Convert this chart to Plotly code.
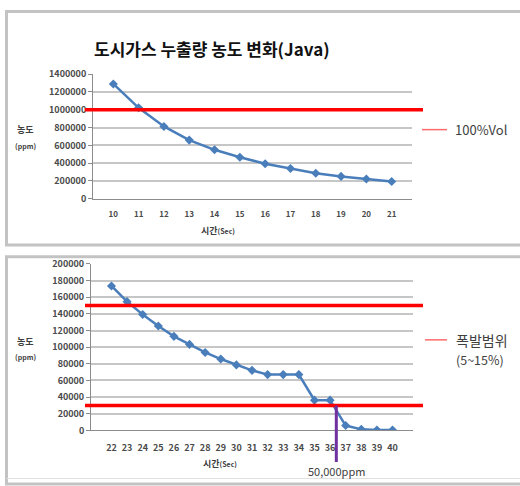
import plotly.graph_objects as go

# ---------------- data ----------------
top_times = ["10", "11", "12", "13", "14", "15", "16", "17", "18", "19", "20", "21"]
top_ppm = [1290000, 1022000, 812000, 659000, 550000, 466000, 393000, 339000, 287000, 251000, 222000, 193000]
top_limit = [1000000]
top_limit_label = "100%Vol"

bot_times = ["22", "23", "24", "25", "26", "27", "28", "29", "30", "31",
             "32", "33", "34", "35", "36", "37", "38", "39", "40"]
bot_ppm = [173500, 154700, 139200, 125500, 113000, 103300, 93600, 85700, 78700, 72100,
           67000, 67000, 67000, 36300, 36300, 5800, 1200, 500, 500]
bot_limits = [150000, 30000]
bot_limit_label = ["폭발범위", "(5~15%)"]
marker_pos = [14.4]          # category position of the 50,000ppm marker
marker_label = "50,000ppm"

title_text = "도시가스 누출량 농도 변화(Java)"

# ---------------- styling ----------------
W, H = 520, 486
FONT = "Noto Sans CJK KR"
BLUE = "#4A7EBB"
RED = "#FF0000"
GRID = "#C6C6C6"
FRAME = "#C3C3C3"


def px(x):
    return x / W


def py(y):
    return 1 - y / H


fig = go.Figure()

fig.add_trace(go.Scatter(
    x=top_times, y=top_ppm, mode="lines+markers", xaxis="x", yaxis="y",
    line=dict(color=BLUE, width=2.5),
    marker=dict(symbol="diamond", size=7, color=BLUE),
    showlegend=False, hoverinfo="x+y"))

fig.add_trace(go.Scatter(
    x=bot_times, y=bot_ppm, mode="lines+markers", xaxis="x2", yaxis="y2",
    line=dict(color=BLUE, width=2.5),
    marker=dict(symbol="diamond", size=7, color=BLUE),
    showlegend=False, hoverinfo="x+y"))

tickfont_y = dict(family=FONT, size=9, color="#4A4A4A", weight="bold")
tickfont_x1 = dict(family=FONT, size=8, color="#4A4A4A", weight="bold")
tickfont_x2 = dict(family=FONT, size=9, color="#4A4A4A", weight="bold")

common_x = dict(type="category", showgrid=False, zeroline=False, showline=True,
                linecolor="#8C8C8C", linewidth=1, ticks="", fixedrange=True)
common_y = dict(showgrid=True, gridcolor=GRID, gridwidth=1.5, zeroline=False,
                showline=True, linecolor="#8C8C8C", linewidth=1, ticks="outside",
                ticklen=4, tickcolor="#8C8C8C", fixedrange=True, tickfont=tickfont_y)

fig.update_layout(
    width=W, height=H, autosize=False,
    margin=dict(l=0, r=0, t=0, b=0),
    paper_bgcolor="white", plot_bgcolor="white",
    font=dict(family=FONT),
    xaxis=dict(common_x, domain=[px(93), px(412)], anchor="y", tickfont=tickfont_x1,
               ticklabelstandoff=8),
    yaxis=dict(common_y, domain=[py(197), py(69)], anchor="x", range=[0, 1400000],
               dtick=200000, tickformat="d"),
    xaxis2=dict(common_x, domain=[px(91), px(413)], anchor="y2", tickfont=tickfont_x2,
                ticklabelstandoff=9),
    yaxis2=dict(common_y, domain=[py(435), py(264)], anchor="x2", range=[0, 200000],
                dtick=20000, tickformat="d"),
)

shapes = []
# panel frames
shapes.append(dict(type="rect", xref="paper", yref="paper",
                   x0=px(6.5), x1=px(540), y0=py(4.5), y1=py(244.5),
                   line=dict(color=FRAME, width=3), layer="below"))
shapes.append(dict(type="rect", xref="paper", yref="paper",
                   x0=px(6.5), x1=px(540), y0=py(256.5), y1=py(490),
                   line=dict(color=FRAME, width=3), layer="below"))
shapes.append(dict(type="line", xref="paper", yref="paper",
                   x0=px(6.5), x1=px(540), y0=py(484.5), y1=py(484.5),
                   line=dict(color="#E0E0E0", width=1), layer="below"))
# threshold lines
for v in top_limit:
    shapes.append(dict(type="line", xref="paper", yref="y", x0=px(85), x1=px(423),
                       y0=v, y1=v, line=dict(color=RED, width=3.5)))
for v in bot_limits:
    shapes.append(dict(type="line", xref="paper", yref="y2", x0=px(85), x1=px(423),
                       y0=v, y1=v, line=dict(color=RED, width=3.5)))
# legend swatches
shapes.append(dict(type="line", xref="paper", yref="paper", x0=px(422), x1=px(447),
                   y0=py(126), y1=py(126), line=dict(color="#FF6A6A", width=1.5)))
shapes.append(dict(type="line", xref="paper", yref="paper", x0=px(425), x1=px(447),
                   y0=py(342), y1=py(342), line=dict(color="#FF6A6A", width=1.5)))
fig.update_layout(shapes=shapes)


def label(text, x, y, size, xanchor="center", color="#404040"):
    return dict(text=text, xref="paper", yref="paper", x=px(x), y=py(y),
                xanchor=xanchor, yanchor="middle", showarrow=False,
                font=dict(family=FONT, size=size, color=color))


ann = []
ann.append(label("<b>" + title_text + "</b>", 212, 43, 17, color="#111111"))
# axis titles
for (yy1, yy2) in [(126, 143), (344, 360)]:
    ann.append(label("<b>농도</b>", 25, yy1, 9))
    ann.append(label("<b>(ppm)</b>", 25, yy2, 7))
for (xx, yy) in [(218, 230), (220, 469)]:
    ann.append(label("<b>시간<span style='font-size:7px'>(Sec)</span></b>", xx, yy, 9))
# legend texts
ann.append(label(top_limit_label, 453, 126, 13, xanchor="left"))
ann.append(label(bot_limit_label[0], 454, 342, 14, xanchor="left"))
ann.append(label(bot_limit_label[1], 454, 362, 12.5, xanchor="left"))
# 50,000ppm marker
for xv in marker_pos:
    ann.append(dict(text=marker_label, xref="x2", yref="y2", x=xv, y=bot_limits[1],
                    ax=0, ay=66, axref="pixel", ayref="pixel",
                    showarrow=True, arrowhead=0, arrowwidth=3, arrowcolor="#7030A0",
                    standoff=0, startstandoff=0,
                    font=dict(family=FONT, size=11, color="#404040")))
fig.update_layout(annotations=ann)

fig.write_html("out.html", config={"displayModeBar": False},
               post_script="document.body.style.margin='0';document.body.style.overflow='hidden';")
